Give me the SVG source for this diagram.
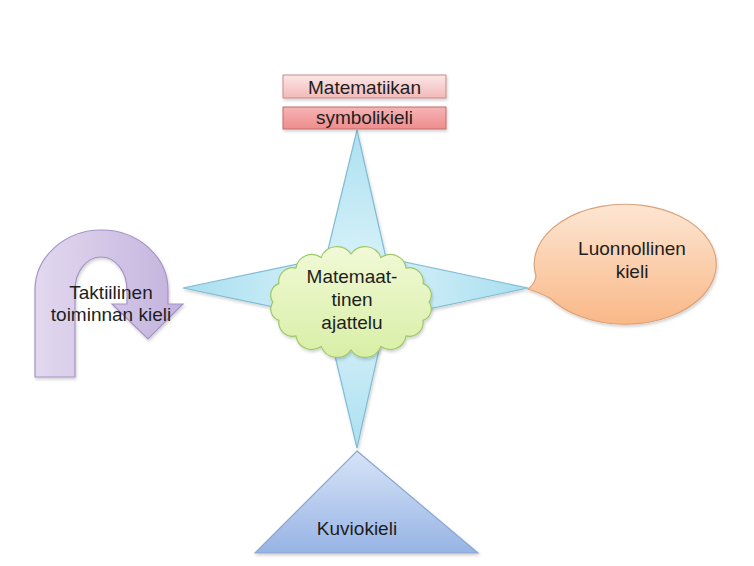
<svg xmlns="http://www.w3.org/2000/svg" width="754" height="566" viewBox="0 0 754 566">
<style>
  text { font-family: "Liberation Sans", Arial, sans-serif; font-size: 19px; fill: #1e1e1e; text-anchor: middle; }
  .sh { filter: url(#shadow); }
</style>
<defs>
  <filter id="shadow" x="-10%" y="-10%" width="130%" height="130%">
    <feDropShadow dx="1" dy="2" stdDeviation="1.5" flood-color="#000" flood-opacity="0.18"/>
  </filter>
  <linearGradient id="gBox1" x1="0" y1="0" x2="0" y2="1">
    <stop offset="0" stop-color="#fce6e6"/>
    <stop offset="1" stop-color="#f3b9b9"/>
  </linearGradient>
  <linearGradient id="gBox2" x1="0" y1="0" x2="0" y2="1">
    <stop offset="0" stop-color="#f6b4b4"/>
    <stop offset="1" stop-color="#ee8d8d"/>
  </linearGradient>
  <radialGradient id="gStar" cx="356" cy="289" r="170" gradientUnits="userSpaceOnUse">
    <stop offset="0" stop-color="#dff5fb"/>
    <stop offset="1" stop-color="#a9def0"/>
  </radialGradient>
  <linearGradient id="gCloud" x1="0" y1="0" x2="0" y2="1">
    <stop offset="0" stop-color="#f1f9d6"/>
    <stop offset="1" stop-color="#d8efa6"/>
  </linearGradient>
  <linearGradient id="gBubble" x1="0" y1="0" x2="0" y2="1">
    <stop offset="0" stop-color="#fde6d3"/>
    <stop offset="1" stop-color="#f9b887"/>
  </linearGradient>
  <linearGradient id="gTri" x1="0" y1="0" x2="0" y2="1">
    <stop offset="0" stop-color="#d7e4f7"/>
    <stop offset="1" stop-color="#97b4e5"/>
  </linearGradient>
  <linearGradient id="gU" x1="0" y1="0" x2="1" y2="0">
    <stop offset="0" stop-color="#e2d8ef"/>
    <stop offset="1" stop-color="#c3b2dd"/>
  </linearGradient>
</defs>

<g id="connectors">
  <polygon class="sh" points="357,130 386,258 528,288 386,318 357,448 326,318 183,288 326,258" fill="url(#gStar)" stroke="#7fbdd4" stroke-width="1.2" stroke-linejoin="miter"/>
</g>

<g id="node-symbolikieli">
  <rect class="sh" x="283" y="75" width="163" height="23" fill="url(#gBox1)" stroke="#c98a8a" stroke-width="1"/>
  <text x="364.5" y="94">Matematiikan</text>
  <rect class="sh" x="283" y="107" width="163" height="22" fill="url(#gBox2)" stroke="#c46a6a" stroke-width="1"/>
  <text x="364.5" y="124">symbolikieli</text>
</g>

<g id="node-taktiilinen">
  <path class="sh" d="M35,377 L35,290 A66.5,60 0 0 1 168,290 L168,304 L183,304 L148,339 L112,304 L127,304 L127,290 A26,33 0 0 0 75,290 L75,377 Z" fill="url(#gU)" stroke="#a393c6" stroke-width="1.2" stroke-linejoin="miter"/>
  <text x="111" y="299">Taktiilinen</text>
  <text x="111" y="321">toiminnan kieli</text>
</g>

<g id="node-ajattelu">
  <path class="sh" d="M429,302 A12,12 0 0 1 423.1,320.4 A14,14 0 0 1 406.1,335.9 A16,16 0 0 1 380.9,346.4 A17,17 0 0 1 351,350 A17,17 0 0 1 321.1,346.4 A16,16 0 0 1 295.9,335.9 A14,14 0 0 1 278.9,320.4 A12,12 0 0 1 273,302 A12,12 0 0 1 278.9,283.6 A14,14 0 0 1 295.9,268.1 A16,16 0 0 1 321.1,257.6 A17,17 0 0 1 351,254 A17,17 0 0 1 380.9,257.6 A16,16 0 0 1 406.1,268.1 A14,14 0 0 1 423.1,283.6 A12,12 0 0 1 429,302 Z" fill="url(#gCloud)" stroke="#9dc866" stroke-width="1.2"/>
  <text x="352" y="283">Matemaat-</text>
  <text x="352" y="306">tinen</text>
  <text x="352" y="329">ajattelu</text>
</g>

<g id="node-luonnollinen">
  <path class="sh" d="M536,276 A91,60 0 1 1 550,298 Q538,292 528,289 Q535,284 536,276 Z" fill="url(#gBubble)" stroke="#dca27a" stroke-width="1.2"/>
  <text x="632" y="255">Luonnollinen</text>
  <text x="632" y="278">kieli</text>
</g>

<g id="node-kuviokieli">
  <polygon class="sh" points="357,451 478,553 255,553" fill="url(#gTri)" stroke="#8aa6d3" stroke-width="1.2"/>
  <text x="357" y="535">Kuviokieli</text>
</g>
</svg>
